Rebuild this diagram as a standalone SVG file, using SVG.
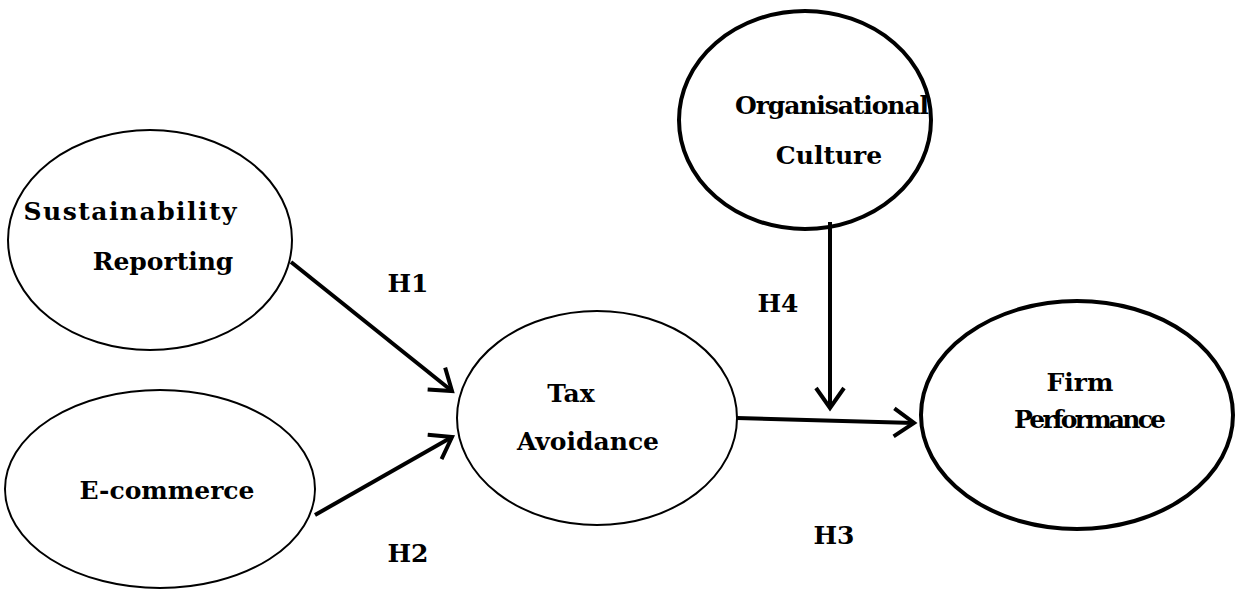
<svg xmlns="http://www.w3.org/2000/svg" width="1237" height="597" viewBox="0 0 1237 597">
<style>
.n{fill:#fff;stroke:#000;stroke-width:2}
.k{fill:#fff;stroke:#000;stroke-width:4}
text{font-family:"DejaVu Serif","Liberation Serif",serif;font-weight:bold;font-size:25px;text-anchor:middle;fill:#000}
.c{stroke:#000;stroke-width:4;fill:none}
</style>
<defs><marker id="a" markerWidth="8" markerHeight="8" refX="6" refY="4" orient="auto" markerUnits="strokeWidth"><path d="M1,0.5 L6,4 L1,7.5" fill="none" stroke="#000" stroke-width="1"/></marker></defs>
<rect width="1237" height="597" fill="#fff"/>
<g id="sr"><ellipse class="n" cx="150" cy="240" rx="142" ry="110"/><text x="130" y="220" textLength="213">Sustainability</text><text x="163" y="270">Reporting</text></g>
<g id="ec"><ellipse class="n" cx="160" cy="489" rx="155" ry="99"/><text x="167" y="499">E-commerce</text></g>
<g id="ta"><ellipse class="n" cx="597" cy="418" rx="140" ry="107"/><text x="571" y="402">Tax</text><text x="588" y="450">Avoidance</text></g>
<g id="oc"><ellipse class="k" cx="805" cy="120" rx="126" ry="109"/><text x="832" y="114" textLength="194">Organisational</text><text x="829" y="164">Culture</text></g>
<g id="fp"><ellipse class="k" cx="1077" cy="415" rx="156" ry="114"/><text x="1080" y="391">Firm</text><text x="1090" y="428" textLength="152">Performance</text></g>
<g id="connectors">
<line class="c" x1="291" y1="262" x2="452" y2="391" marker-end="url(#a)"/>
<line class="c" x1="315" y1="515" x2="452" y2="437" marker-end="url(#a)"/>
<line class="c" x1="737" y1="418" x2="914" y2="423" marker-end="url(#a)"/>
<line class="c" x1="830" y1="222" x2="830" y2="408" marker-end="url(#a)"/>
</g>
<text x="408" y="292">H1</text><text x="408" y="562">H2</text><text x="834" y="544">H3</text><text x="778" y="312">H4</text>
</svg>
